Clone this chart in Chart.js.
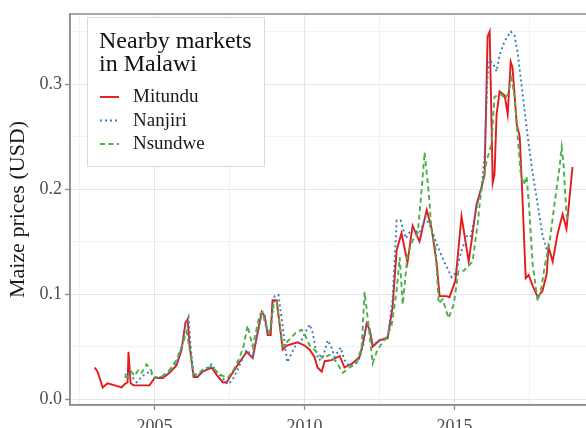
<!DOCTYPE html>
<html>
<head>
<meta charset="utf-8">
<script src="https://cdn.jsdelivr.net/npm/chart.js@4"></script>
<style>
  html, body { margin: 0; padding: 0; background: #fff; }
</style>
</head>
<body>
<canvas id="maizeChart" width="586" height="428"></canvas>
<script>
// Maize prices (USD) in three nearby markets
const mitunduYears = [
    2003.0, 2003.1, 2003.27, 2003.43, 2003.67, 2003.9, 2004.0, 2004.1, 2004.13, 2004.2,
    2004.3, 2004.83, 2005.0, 2005.27, 2005.5, 2005.73, 2005.9, 2006.03, 2006.1, 2006.17,
    2006.3, 2006.43, 2006.6, 2006.9, 2007.07, 2007.27, 2007.4, 2007.6, 2007.83, 2008.07,
    2008.27, 2008.57, 2008.67, 2008.77, 2008.87, 2008.93, 2009.07, 2009.27, 2009.4, 2009.77,
    2010.0, 2010.17, 2010.33, 2010.43, 2010.57, 2010.67, 2010.9, 2011.17, 2011.33, 2011.6,
    2011.83, 2011.93, 2012.07, 2012.17, 2012.27, 2012.5, 2012.77, 2012.93, 2013.07, 2013.23,
    2013.43, 2013.6, 2013.83, 2014.07, 2014.23, 2014.4, 2014.5, 2014.73, 2014.83, 2015.03,
    2015.23, 2015.47, 2015.73, 2015.9, 2016.0, 2016.1, 2016.17, 2016.27, 2016.33, 2016.4,
    2016.5, 2016.67, 2016.77, 2016.87, 2016.93, 2017.07, 2017.17, 2017.25, 2017.37, 2017.47,
    2017.6, 2017.77, 2017.93, 2018.07, 2018.13, 2018.27, 2018.43, 2018.6, 2018.73, 2018.93
];
const mitunduPrices = [
    0.030, 0.026, 0.011, 0.015, 0.013, 0.011, 0.014, 0.016, 0.045, 0.015,
    0.013, 0.013, 0.020, 0.020, 0.025, 0.032, 0.047, 0.073, 0.076, 0.050,
    0.021, 0.021, 0.026, 0.030, 0.023, 0.016, 0.016, 0.025, 0.035, 0.045,
    0.039, 0.083, 0.079, 0.061, 0.061, 0.094, 0.094, 0.047, 0.051, 0.054,
    0.051, 0.047, 0.040, 0.030, 0.026, 0.036, 0.037, 0.041, 0.030, 0.034,
    0.040, 0.051, 0.072, 0.066, 0.050, 0.056, 0.058, 0.087, 0.142, 0.158,
    0.130, 0.165, 0.150, 0.180, 0.163, 0.130, 0.098, 0.098, 0.097, 0.113,
    0.174, 0.131, 0.185, 0.202, 0.214, 0.345, 0.350, 0.206, 0.214, 0.271,
    0.293, 0.289, 0.271, 0.321, 0.316, 0.262, 0.250, 0.200, 0.115, 0.118,
    0.108, 0.097, 0.103, 0.119, 0.145, 0.131, 0.157, 0.176, 0.162, 0.221
];

const nanjiriYears = [
    2004.0, 2004.17, 2004.4, 2004.6, 2004.83, 2005.0, 2005.27, 2005.5, 2005.73, 2005.9,
    2006.03, 2006.13, 2006.2, 2006.3, 2006.43, 2006.67, 2006.9, 2007.07, 2007.27, 2007.43,
    2007.6, 2007.83, 2008.07, 2008.27, 2008.57, 2008.67, 2008.77, 2008.87, 2009.0, 2009.13,
    2009.27, 2009.37, 2009.43, 2009.57, 2009.7, 2009.9, 2010.07, 2010.17, 2010.27, 2010.37,
    2010.47, 2010.6, 2010.77, 2010.9, 2011.0, 2011.2, 2011.33, 2011.5, 2011.67, 2011.83,
    2011.97, 2012.07, 2012.17, 2012.27, 2012.5, 2012.77, 2012.93, 2013.07, 2013.2, 2013.37,
    2013.57, 2013.83, 2014.03, 2014.23, 2014.4, 2014.63, 2014.9, 2015.03, 2015.23, 2015.4,
    2015.53, 2015.73, 2015.9, 2016.0, 2016.1, 2016.17, 2016.33, 2016.4, 2016.5, 2016.67,
    2016.87, 2017.0, 2017.1, 2017.27, 2017.43, 2017.6, 2017.77, 2017.93, 2018.07
];
const nanjiriPrices = [
    0.023, 0.024, 0.016, 0.022, 0.026, 0.021, 0.021, 0.026, 0.034, 0.049,
    0.070, 0.078, 0.051, 0.022, 0.022, 0.028, 0.033, 0.026, 0.020, 0.014,
    0.018, 0.032, 0.047, 0.040, 0.082, 0.079, 0.063, 0.066, 0.098, 0.099,
    0.069, 0.045, 0.035, 0.044, 0.051, 0.056, 0.066, 0.071, 0.063, 0.047,
    0.037, 0.039, 0.056, 0.049, 0.040, 0.049, 0.037, 0.031, 0.033, 0.039,
    0.053, 0.073, 0.066, 0.051, 0.056, 0.059, 0.094, 0.170, 0.170, 0.153,
    0.162, 0.158, 0.173, 0.162, 0.148, 0.132, 0.116, 0.120, 0.141, 0.155,
    0.154, 0.182, 0.202, 0.232, 0.309, 0.323, 0.317, 0.312, 0.328, 0.341,
    0.350, 0.346, 0.330, 0.290, 0.251, 0.216, 0.185, 0.156, 0.142
];

const nsundweYears = [
    2004.0, 2004.1, 2004.23, 2004.33, 2004.47, 2004.57, 2004.73, 2004.83, 2005.0, 2005.27,
    2005.5, 2005.73, 2005.9, 2006.07, 2006.17, 2006.3, 2006.43, 2006.6, 2006.9, 2007.07,
    2007.27, 2007.43, 2007.6, 2007.83, 2007.97, 2008.1, 2008.27, 2008.5, 2008.6, 2008.7,
    2008.83, 2008.97, 2009.07, 2009.27, 2009.47, 2009.7, 2009.9, 2010.0, 2010.17, 2010.4,
    2010.6, 2010.83, 2011.07, 2011.27, 2011.5, 2011.73, 2011.9, 2012.0, 2012.1, 2012.27,
    2012.43, 2012.73, 2012.9, 2013.07, 2013.17, 2013.27, 2013.43, 2013.6, 2013.77, 2013.9,
    2014.0, 2014.13, 2014.23, 2014.37, 2014.47, 2014.6, 2014.8, 2014.97, 2015.13, 2015.3,
    2015.47, 2015.6, 2015.77, 2015.87, 2015.97, 2016.07, 2016.23, 2016.33, 2016.43, 2016.57,
    2016.67, 2016.77, 2016.9, 2017.0, 2017.1, 2017.2, 2017.3, 2017.4, 2017.5, 2017.6,
    2017.77, 2017.9, 2018.0, 2018.17, 2018.33, 2018.5, 2018.57, 2018.63, 2018.73, 2018.77
];
const nsundwePrices = [
    0.021, 0.021, 0.026, 0.022, 0.028, 0.025, 0.033, 0.030, 0.020, 0.022,
    0.028, 0.037, 0.050, 0.064, 0.047, 0.024, 0.023, 0.028, 0.031, 0.026,
    0.022, 0.020, 0.026, 0.039, 0.051, 0.070, 0.050, 0.080, 0.083, 0.070,
    0.063, 0.092, 0.092, 0.050, 0.056, 0.063, 0.066, 0.062, 0.051, 0.045,
    0.039, 0.042, 0.035, 0.025, 0.030, 0.034, 0.049, 0.102, 0.078, 0.034,
    0.047, 0.059, 0.070, 0.104, 0.135, 0.090, 0.137, 0.151, 0.158, 0.199,
    0.235, 0.199, 0.161, 0.142, 0.091, 0.095, 0.077, 0.090, 0.122, 0.122,
    0.127, 0.131, 0.167, 0.195, 0.211, 0.227, 0.243, 0.288, 0.289, 0.290,
    0.286, 0.290, 0.305, 0.288, 0.251, 0.216, 0.204, 0.212, 0.176, 0.129,
    0.093, 0.107, 0.126, 0.150, 0.186, 0.221, 0.240, 0.224, 0.176, 0.170
];

// axis ticks: grid lines every half step, labels only on the major ones
const xGridYears = [2002.5, 2005, 2007.5, 2010, 2012.5, 2015, 2017.5];
const xLabelYears = [2005, 2010, 2015];
const yGridValues = [0, 0.05, 0.1, 0.15, 0.2, 0.25, 0.3, 0.35];
const yLabelValues = [0, 0.1, 0.2, 0.3];

const legendTitle = ['Nearby markets', 'in Malawi'];
const serif = "'Liberation Serif', 'Times New Roman', serif";
const frameColor = '#8c8c8c';

function isLabelled(value, labels) {
    return labels.some(l => Math.abs(l - value) < 1e-9);
}

function toPoints(years, prices) {
    return years.map((year, i) => ({ x: year, y: prices[i] }));
}

// ggplot-like panel border around the plotting area
const panelBorder = {
    id: 'panelBorder',
    afterDatasetsDraw(chart) {
        const { ctx, chartArea: a } = chart;
        ctx.save();
        ctx.strokeStyle = frameColor;
        ctx.lineWidth = 1.5;
        ctx.strokeRect(a.left, a.top, a.right - a.left + 4, a.bottom - a.top);
        ctx.restore();
    }
};

// legend box inside the panel, top left, with a two-line title
const insideLegend = {
    id: 'insideLegend',
    afterDraw(chart) {
        const { ctx, chartArea: a } = chart;
        const left = a.left + 17;
        const top = a.top + 3;
        ctx.save();
        ctx.fillStyle = '#ffffff';
        ctx.fillRect(left, top, 177, 149);
        ctx.strokeStyle = '#d9d9d9';
        ctx.lineWidth = 1;
        ctx.strokeRect(left + 0.5, top + 0.5, 177, 149);

        ctx.fillStyle = '#111111';
        ctx.textBaseline = 'alphabetic';
        ctx.textAlign = 'left';
        ctx.font = '24px ' + serif;
        legendTitle.forEach((line, i) => {
            ctx.fillText(line, left + 12, top + 31 + i * 23);
        });

        ctx.font = '19px ' + serif;
        chart.data.datasets
            .slice()
            .sort((p, q) => p.legendIndex - q.legendIndex)
            .forEach((ds, i) => {
                const y = top + 80 + i * 23.5;
                ctx.strokeStyle = ds.borderColor;
                ctx.lineWidth = ds.borderWidth;
                ctx.setLineDash(ds.borderDash || []);
                ctx.beginPath();
                ctx.moveTo(left + 13, y);
                ctx.lineTo(left + 32, y);
                ctx.stroke();
                ctx.setLineDash([]);
                ctx.fillStyle = '#1a1a1a';
                ctx.fillText(ds.label, left + 46, y + 5);
            });
        ctx.restore();
    }
};

const ctx = document.getElementById('maizeChart').getContext('2d');

new Chart(ctx, {
    type: 'line',
    data: {
        datasets: [
            {
                label: 'Mitundu',
                data: toPoints(mitunduYears, mitunduPrices),
                borderColor: '#e41a1c',
                borderWidth: 1.9,
                legendIndex: 0,
                order: 3
            },
            {
                label: 'Nanjiri',
                data: toPoints(nanjiriYears, nanjiriPrices),
                borderColor: '#377eb8',
                borderWidth: 1.9,
                borderDash: [2, 3],
                legendIndex: 1,
                order: 2
            },
            {
                label: 'Nsundwe',
                data: toPoints(nsundweYears, nsundwePrices),
                borderColor: '#4daf4a',
                borderWidth: 1.9,
                borderDash: [5, 3.5],
                legendIndex: 2,
                order: 1
            }
        ]
    },
    options: {
        responsive: false,
        animation: false,
        layout: { padding: { top: 14, right: 0, bottom: 0, left: 0 } },
        elements: {
            point: { radius: 0 },
            line: { tension: 0, fill: false }
        },
        plugins: {
            legend: { display: false },
            tooltip: { enabled: false }
        },
        scales: {
            x: {
                type: 'linear',
                min: 2002.18,
                max: 2019.38,
                afterBuildTicks: scale => {
                    scale.ticks = xGridYears.map(v => ({ value: v }));
                },
                afterFit: scale => { scale.height = 23; },
                ticks: {
                    autoSkip: false,
                    maxRotation: 0,
                    padding: 6,
                    color: '#4d4d4d',
                    font: { family: serif, size: 18 },
                    callback: value => isLabelled(value, xLabelYears) ? String(value) : ''
                },
                grid: {
                    color: c => c.tick && isLabelled(c.tick.value, xLabelYears) ? '#e6e6e6' : '#f1f1f1',
                    lineWidth: 1,
                    tickLength: 5,
                    tickWidth: 1.3,
                    tickColor: c => c.tick && isLabelled(c.tick.value, xLabelYears) ? frameColor : 'rgba(0,0,0,0)'
                },
                border: { color: frameColor, width: 1.5 }
            },
            y: {
                min: -0.0057,
                max: 0.3667,
                afterBuildTicks: scale => {
                    scale.ticks = yGridValues.map(v => ({ value: v }));
                },
                afterFit: scale => { scale.width = 70; },
                ticks: {
                    padding: 3,
                    color: '#4d4d4d',
                    font: { family: serif, size: 18 },
                    callback: value => isLabelled(value, yLabelValues) ? value.toFixed(1) : ''
                },
                grid: {
                    color: c => c.tick && isLabelled(c.tick.value, yLabelValues) ? '#e6e6e6' : '#f1f1f1',
                    lineWidth: 1,
                    tickLength: 5,
                    tickWidth: 1.3,
                    tickColor: c => c.tick && isLabelled(c.tick.value, yLabelValues) ? frameColor : 'rgba(0,0,0,0)'
                },
                border: { color: frameColor, width: 1.5 },
                title: {
                    display: true,
                    text: 'Maize prices (USD)',
                    color: '#1a1a1a',
                    font: { family: serif, size: 22 },
                    padding: { top: 5, bottom: 0 }
                }
            }
        }
    },
    plugins: [panelBorder, insideLegend]
});
</script>
</body>
</html>
